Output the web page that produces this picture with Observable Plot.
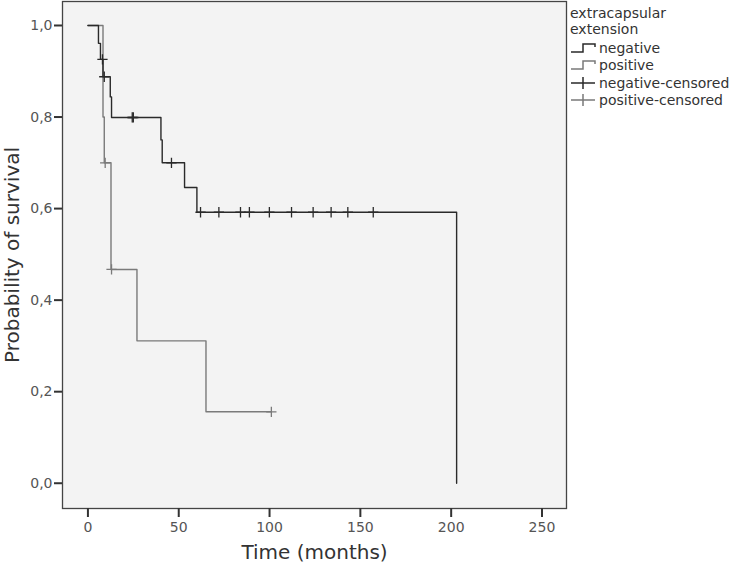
<!DOCTYPE html>
<html>
<head>
<meta charset="utf-8">
<script src="https://cdn.jsdelivr.net/npm/d3@7"></script>
<script src="https://cdn.jsdelivr.net/npm/@observablehq/plot@0.6"></script>
<style>
  body { margin: 0; background: #fff; font-family: "DejaVu Sans", sans-serif; }
  #wrap { position: relative; width: 735px; height: 568px; }
  #legend { position: absolute; left: 570px; top: 5px; font-size: 14px; color: #333; line-height: 16px; }
  #legend .row { display: flex; align-items: center; height: 17.5px; }
  #legend svg { margin-right: 3px; }
</style>
</head>
<body>
<div id="wrap"><div id="chart"></div><div id="legend"></div></div>
<script>
// Negative group (Kaplan-Meier steps)
const negTimes = [0, 5.8, 6.9, 8.3, 12.3, 13, 40.2, 40.9, 53.2, 60, 203];
const negSurv  = [1, 0.961, 0.926, 0.888, 0.844, 0.799, 0.750, 0.700, 0.646, 0.592, 0];
const negCensorTimes = [8, 9, 24.4, 25, 46, 62, 72.1, 84, 88.9, 99.9, 112.1, 124, 133.9, 143.1, 157.1];
const negCensorSurv  = [0.926, 0.888, 0.799, 0.799, 0.700, 0.592, 0.592, 0.592, 0.592, 0.592, 0.592, 0.592, 0.592, 0.592, 0.592];
// Positive group
const posTimes = [0, 8.3, 9.0, 12.7, 27, 65, 101];
const posSurv  = [1, 0.8, 0.7, 0.467, 0.311, 0.156, 0.156];
const posCensorTimes = [9.5, 13, 101];
const posCensorSurv  = [0.7, 0.467, 0.156];

const xTicks = [0, 50, 100, 150, 200, 250];
const yTicks = [0, 0.2, 0.4, 0.6, 0.8, 1.0];
const legendTitle = ["extracapsular", "extension"];
const groups = ["negative", "positive"];
const colors = {negative: "#2a2a2a", positive: "#7a7a7a"};

const steps = [
  ...negTimes.map((t, i) => ({t, s: negSurv[i], g: "negative"})),
  ...posTimes.map((t, i) => ({t, s: posSurv[i], g: "positive"}))
];
const censors = [
  ...negCensorTimes.map((t, i) => ({t, s: negCensorSurv[i], g: "negative"})),
  ...posCensorTimes.map((t, i) => ({t, s: posCensorSurv[i], g: "positive"}))
];

const fmt = v => d3.format(".1f")(v).replace(".", ",");

const chart = Plot.plot({
  width: 570,
  height: 568,
  marginLeft: 62,
  marginRight: 4,
  marginTop: 1,
  marginBottom: 60,
  style: {fontFamily: "DejaVu Sans, sans-serif", fontSize: "13px", color: "#444", background: "transparent"},
  x: {domain: [-14, 263.5]},
  y: {domain: [-0.0552, 1.0524]},
  marks: [
    Plot.frame({fill: "#f3f3f3", stroke: "#444", strokeWidth: 1.3}),
    Plot.axisX({ticks: xTicks, tickSize: 9, tickPadding: 5, strokeWidth: 2, stroke: "#333", fill: "#555", fontSize: 14, label: null, tickFormat: d => d}),
    Plot.axisY({ticks: yTicks, tickSize: 8, tickPadding: 2, strokeWidth: 2, stroke: "#333", fill: "#555", fontSize: 14, label: null, tickFormat: fmt}),
    Plot.line(steps.filter(d => d.g === "positive"), {x: "t", y: "s", curve: "step-after", stroke: colors.positive, strokeWidth: 1.4}),
    Plot.line(steps.filter(d => d.g === "negative"), {x: "t", y: "s", curve: "step-after", stroke: colors.negative, strokeWidth: 1.4}),
    Plot.dot(censors, {x: "t", y: "s", symbol: "plus", r: 3.4, stroke: d => colors[d.g], strokeWidth: 1.3}),
    Plot.text(["Time (months)"], {frameAnchor: "bottom", dy: 50, fontSize: 20, fill: "#333"}),
    Plot.text(["Probability of survival"], {frameAnchor: "left", dx: -50, rotate: -90, textAnchor: "middle", fontSize: 20, fill: "#333"})
  ]
});
document.getElementById("chart").appendChild(chart);

// Legend
const leg = document.getElementById("legend");
legendTitle.forEach(t => { const d = document.createElement("div"); d.textContent = t; d.style.height = "16px"; leg.appendChild(d); });
const sp = document.createElement("div"); sp.style.height = "2px"; leg.appendChild(sp);
const ns = "http://www.w3.org/2000/svg";
function swatch(kind, color) {
  const s = document.createElementNS(ns, "svg");
  s.setAttribute("width", 26); s.setAttribute("height", 14);
  const p = document.createElementNS(ns, "path");
  p.setAttribute("d", kind === "step" ? "M1,11H13V3H25V6" : "M1,7H25M13,1V13");
  p.setAttribute("fill", "none"); p.setAttribute("stroke", color); p.setAttribute("stroke-width", 1.5);
  s.appendChild(p);
  return s;
}
const entries = [
  ...groups.map(g => ({label: g, kind: "step", color: colors[g]})),
  ...groups.map(g => ({label: g + "-censored", kind: "plus", color: colors[g]}))
];
entries.forEach(e => {
  const r = document.createElement("div"); r.className = "row";
  r.appendChild(swatch(e.kind, e.color));
  const t = document.createElement("span"); t.textContent = e.label; r.appendChild(t);
  leg.appendChild(r);
});
</script>
</body>
</html>
